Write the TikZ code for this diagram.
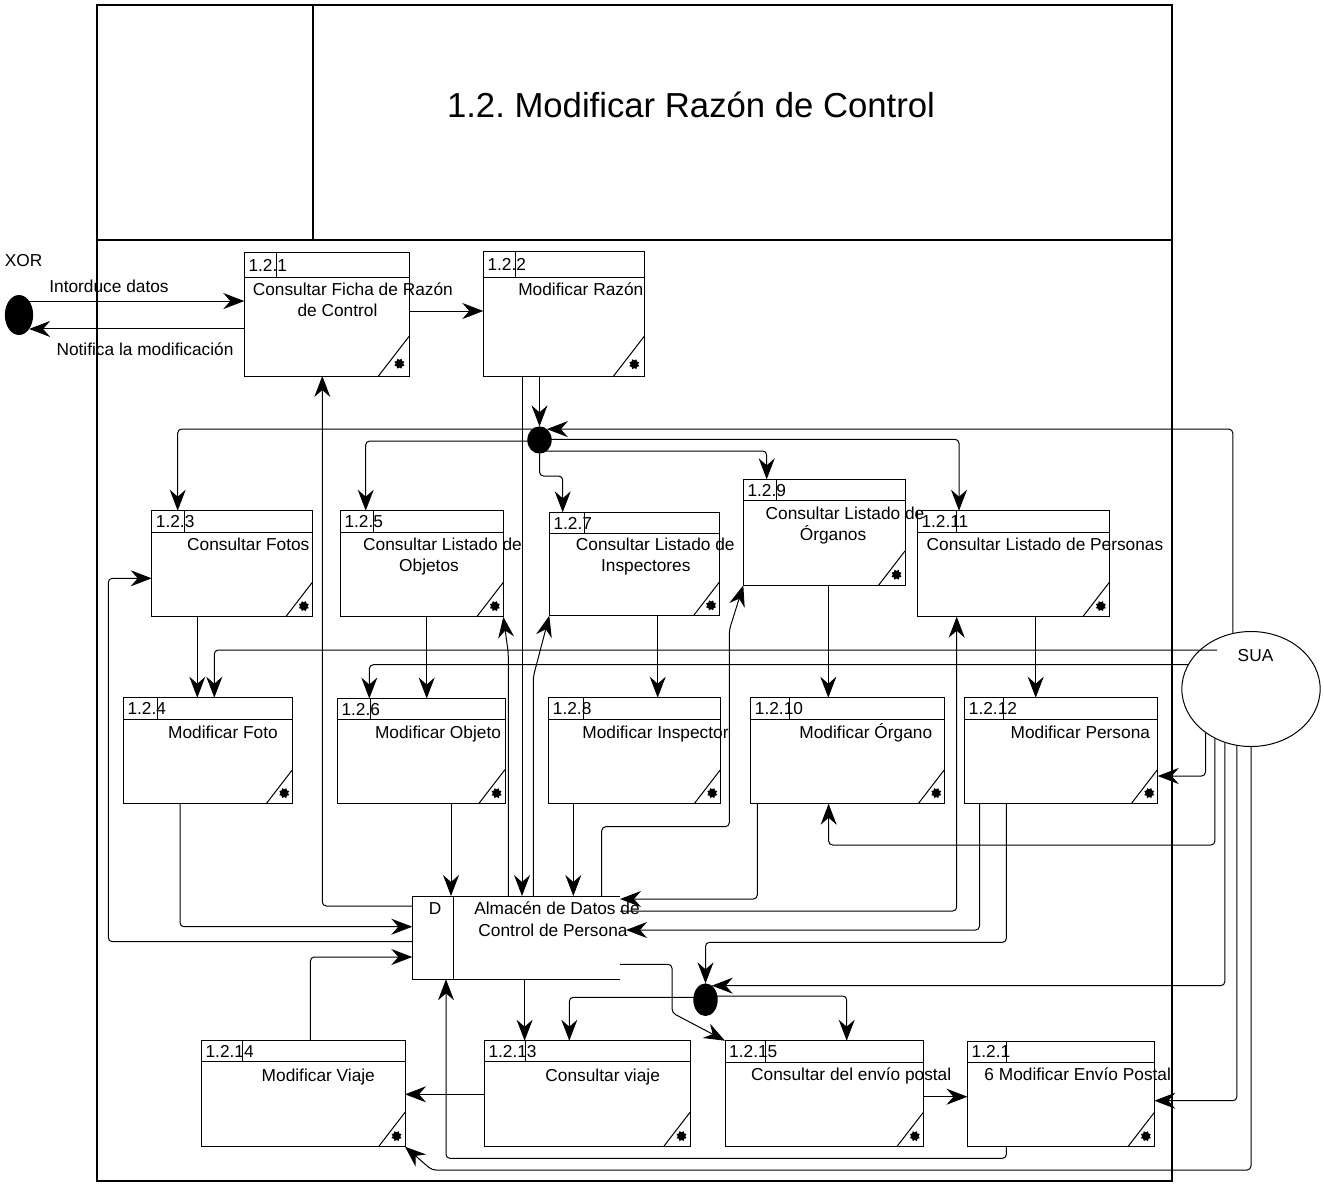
\documentclass[tikz,border=0pt]{standalone}
\usepackage{fontspec}
\setmainfont{Liberation Sans}
\usetikzlibrary{arrows.meta,calc,shapes.geometric}

% process box: name, x1, y1, x2, y2, header line y, id divider x, id text
\newcommand\procbox[8]{%
  \pgfmathsetmacro\bw{#4-#2}\pgfmathsetmacro\bh{#5-#3}%
  \node[pbox, minimum width=\bw pt, minimum height=\bh pt, anchor=north west] (#1) at (#2,#3) {};
  \draw[bline] (#2,#6) -- (#4,#6);
  \draw[bline] (#7,#3) -- (#7,#6);
  \draw[bline] ($(#1.south east)+(-0.25*\bh,0)$) -- ($(#1.south east)+(0,-0.324*\bh)$);
  \node[cornerstar] (#1star) at ($(#1.south east)+(-0.08*\bh,-0.1*\bh)$) {};
  \node[lbl, anchor=base west] (#1id) at ({#2+4},{(#3+#6)/2+6.2}) {#8};
}

\begin{document}
\begin{tikzpicture}[x=1pt,y=-1pt,
  bline/.style={line width=1pt, draw=black},
  pbox/.style={draw=black, line width=1pt, rectangle, inner sep=0pt, outer sep=0pt},
  cornerstar/.style={star, star points=8, star point ratio=0.7, fill=black, inner sep=0pt, minimum size=7.5pt},
  lbl/.style={font=\fontsize{17.3}{20}\selectfont, inner sep=0pt, anchor=base},
  conn/.style={line width=1pt, rounded corners=4pt},
  arr/.style={conn, -{Stealth[length=21pt,width=16pt,inset=7pt]}},
  junction/.style={ellipse, fill=black, inner sep=0pt, outer sep=0pt},
  frame/.style={line width=2.2pt}
]
\useasboundingbox (0,0) rectangle (1324,1184);

% outer frame and title area
\draw[frame] (97,5) rectangle (1172,1181);
\draw[frame] (97,240) -- (1172,240);
\draw[frame] (313,5) -- (313,240);
\node[inner sep=0pt, anchor=base, font=\fontsize{34.7}{40}\selectfont] (title) at (691,117.4) {1.2.\ Modificar Razón de Control};

% processes
\procbox{p121}{244.3}{252.7}{409.3}{376}{277.3}{276.7}{1.2.1}
\procbox{p122}{483.3}{251.7}{644.3}{376.7}{277.3}{515.3}{1.2.2}
\procbox{p123}{151.7}{510.7}{312.3}{616.7}{532}{184}{1.2.3}
\procbox{p125}{340.3}{510.7}{503.3}{616.7}{532}{373.3}{1.2.5}
\procbox{p127}{549.3}{512.3}{719.3}{615.7}{533.3}{584}{1.2.7}
\procbox{p129}{743.3}{479.3}{905}{585.3}{500.7}{776}{1.2.9}
\procbox{p1211}{917.3}{510.7}{1109.3}{616.7}{532}{956.7}{1.2.11}
\procbox{p124}{123.3}{697.7}{292.7}{803.7}{719.3}{157.3}{1.2.4}
\procbox{p126}{337.3}{698.5}{505}{803.7}{719.7}{370.7}{1.2.6}
\procbox{p128}{548.7}{697.7}{720.7}{803.7}{719}{583.3}{1.2.8}
\procbox{p1210}{750.7}{697.7}{944.7}{803.7}{719}{789.3}{1.2.10}
\procbox{p1212}{964.7}{697.7}{1157.7}{803.7}{719}{1003.3}{1.2.12}
\procbox{p1214}{201.4}{1040.7}{405}{1146.7}{1061.7}{242.9}{1.2.14}
\procbox{p1213}{484.3}{1040.7}{690}{1146.7}{1061.7}{525.7}{1.2.13}
\procbox{p1215}{725}{1040.7}{923.3}{1146.7}{1062.3}{765.7}{1.2.15}
\procbox{p1216}{967.5}{1041}{1154.3}{1146.7}{1062.3}{1006.4}{1.2.1}

% process texts
\node[lbl] (t121a) at (352.8,295.3) {Consultar Ficha de Razón};
\node[lbl] (t121b) at (337.5,316) {de Control};
\node[lbl] (t122) at (580.8,295.3) {Modificar Razón};
\node[lbl] (t123) at (248.3,550.3) {Consultar Fotos};
\node[lbl] (t125a) at (442.5,550.3) {Consultar Listado de};
\node[lbl] (t125b) at (429,571.7) {Objetos};
\node[lbl] (t127a) at (655.3,550.3) {Consultar Listado de};
\node[lbl] (t127b) at (645.8,571.7) {Inspectores};
\node[lbl] (t129a) at (845,519.3) {Consultar Listado de};
\node[lbl] (t129b) at (833,540) {Órganos};
\node[lbl] (t1211) at (1045,550.3) {Consultar Listado de Personas};
\node[lbl] (t124) at (223,738) {Modificar Foto};
\node[lbl] (t126) at (438,738) {Modificar Objeto};
\node[lbl] (t128) at (655.5,738.3) {Modificar Inspector};
\node[lbl] (t1210) at (865.8,738) {Modificar Órgano};
\node[lbl] (t1212) at (1080.3,738.3) {Modificar Persona};
\node[lbl] (t1214) at (318.3,1081) {Modificar Viaje};
\node[lbl] (t1213) at (602.7,1081) {Consultar viaje};
\node[lbl] (t1215) at (851.2,1080) {Consultar del envío postal};
\node[lbl] (t1216) at (1077.7,1080.3) {6 Modificar Envío Postal};

% data store
\node[inner sep=0pt, outer sep=0pt, minimum width=207.7pt, minimum height=83.3pt, anchor=north west] (store) at (412.3,896) {};
\draw[bline] (store.north east) -- (store.north west) -- (store.south west) -- (store.south east);
\draw[bline] (453.3,0 |- store.north) -- (453.3,0 |- store.south);
\node[lbl] (storeid) at (435,914) {D};
\node[lbl] (storea) at (557,914) {Almacén de Datos de};
\node[lbl] (storeb) at (553,936) {Control de Persona};

% external entities and junctions
\node[junction, minimum width=28.3pt, minimum height=40pt] (xor) at (19,315) {};
\node[lbl] (xorlbl) at (23.7,266) {XOR};
\node[draw, ellipse, line width=1pt, inner sep=0pt, minimum width=138.3pt, minimum height=115pt] (sua) at (1251,689) {};
\node[lbl] (sualbl) at (1255.5,661) {SUA};
\node[junction, minimum width=24.4pt, minimum height=27.3pt] (j1) at (539.5,440) {};
\node[junction, minimum width=24.4pt, minimum height=32.7pt] (j2) at (705.5,999.7) {};

% entry and exit flows
\draw[arr] (xor.54) -- (xor.54 -| p121.west);
\draw[arr] (xor.-54 -| p121.west) -- (xor.-54);
\node[lbl] (inlbl) at (109,292) {Intorduce datos};
\node[lbl] (outlbl) at (145,355) {Notifica la modificación};
\draw[arr] (p121.east |- 0,311) -- (p122.west |- 0,311);

% from 1.2.2
\draw[arr] (539.5,0 |- p122.south) -- (j1.north);
\draw[arr] (522,0 |- p122.south) -- (522,0 |- store.north);

% branching at the upper junction
\draw[arr] (j1.center |- 0,429) -| (177.7,0 |- p123.north);
\draw[arr] (j1.center |- 0,441) -| (365.7,0 |- p125.north);
\draw[arr] (j1.south) |- (562.7,476) -- (562.7,0 |- p127.north);
\draw[arr] (j1.center |- 0,451) -| (766.7,0 |- p129.north);
\draw[arr] (j1.center |- 0,439.3) -| (959,0 |- p1211.north);
\draw[arr] (sua.108) |- (j1.56);

% consult -> modify
\draw[arr] (197.3,0 |- p123.south) -- (197.3,0 |- p124.north);
\draw[arr] ($(sua.center)+(-34,-39)$) -| (214.3,0 |- p124.north);
\draw[arr] (sua.159) -| (369.3,0 |- p126.north);
\draw[arr] (426.7,0 |- p125.south) -- (426.7,0 |- p126.north);
\draw[arr] (657.7,0 |- p127.south) -- (657.7,0 |- p128.north);
\draw[arr] (828.3,0 |- p129.south) -- (828.3,0 |- p1210.north);
\draw[arr] (1035.7,0 |- p1211.south) -- (1035.7,0 |- p1212.north);

% store -> consult processes
\draw[arr] (508.3,0 |- store.north) -- (508.3,653) -- (p125.south east);
\draw[arr] (533.3,0 |- store.north) -- (533.3,676.7) -- (p127.south west);
\draw[arr] (601.7,0 |- store.north) |- (729.3,826.7) -- (729.3,630) -- (p129.south west);
\draw[arr] (store.west |- 0,906) -| (322.3,0 |- p121.south);
\draw[arr] (store.west |- 0,941.7) -| (108.3,578.3) -- (p123.west |- 0,578.3);
\draw[arr] (store.east |- 0,911) -| (956.7,0 |- p1211.south);

% modify processes -> store
\draw[arr] (180,0 |- p124.south) |- (store.west |- 0,926.7);
\draw[arr] (310.4,0 |- p1214.north) |- (store.west |- 0,957);
\draw[arr] (451,0 |- p126.south) -- (451,0 |- store.north);
\draw[arr] (573.3,0 |- p128.south) -- (573.3,0 |- store.north);
\draw[arr] (757.3,0 |- p1210.south) |- (store.east |- 0,899);
\draw[arr] (979.5,0 |- p1212.south) |- ($(store.east |- 0,930)+(6,0)$);
\draw[arr] (1006.4,0 |- p1212.south) |- (j2.north |- 0,942.3) -- (j2.north);
\draw[arr] (1006.4,0 |- p1216.south) |- (446,1158.3) -- (446,0 |- store.south);

% SUA flows
\draw[arr] (sua.224) |- (p1212.east |- 0,776);
\draw[arr] (sua.234) |- (828.6,845) -- (828.6,0 |- p1210.south);
\draw[arr] (sua.244) |- (j2.66);
\draw[arr] (sua.256) |- (p1216.east |- 0,1100.7);
\draw[arr] (sua.south) |- (431.8,1170) -- (p1214.south east);

% lower part
\draw[arr] (524.6,0 |- store.south) -- (524.6,0 |- p1213.north);
\draw[arr] (j2.center |- 0,997.3) -| (569.3,0 |- p1213.north);
\draw[arr] (j2.center |- 0,996) -| (846.7,0 |- p1215.north);
\draw[arr] (store.east |- 0,964.3) -| (672,1012.7) -- (p1215.north west);
\draw[arr] (p1213.west |- 0,1094.3) -- (p1214.east |- 0,1094.3);
\draw[arr] (p1215.east |- 0,1096.7) -- (p1216.west |- 0,1096.7);
\end{tikzpicture}
\end{document}
